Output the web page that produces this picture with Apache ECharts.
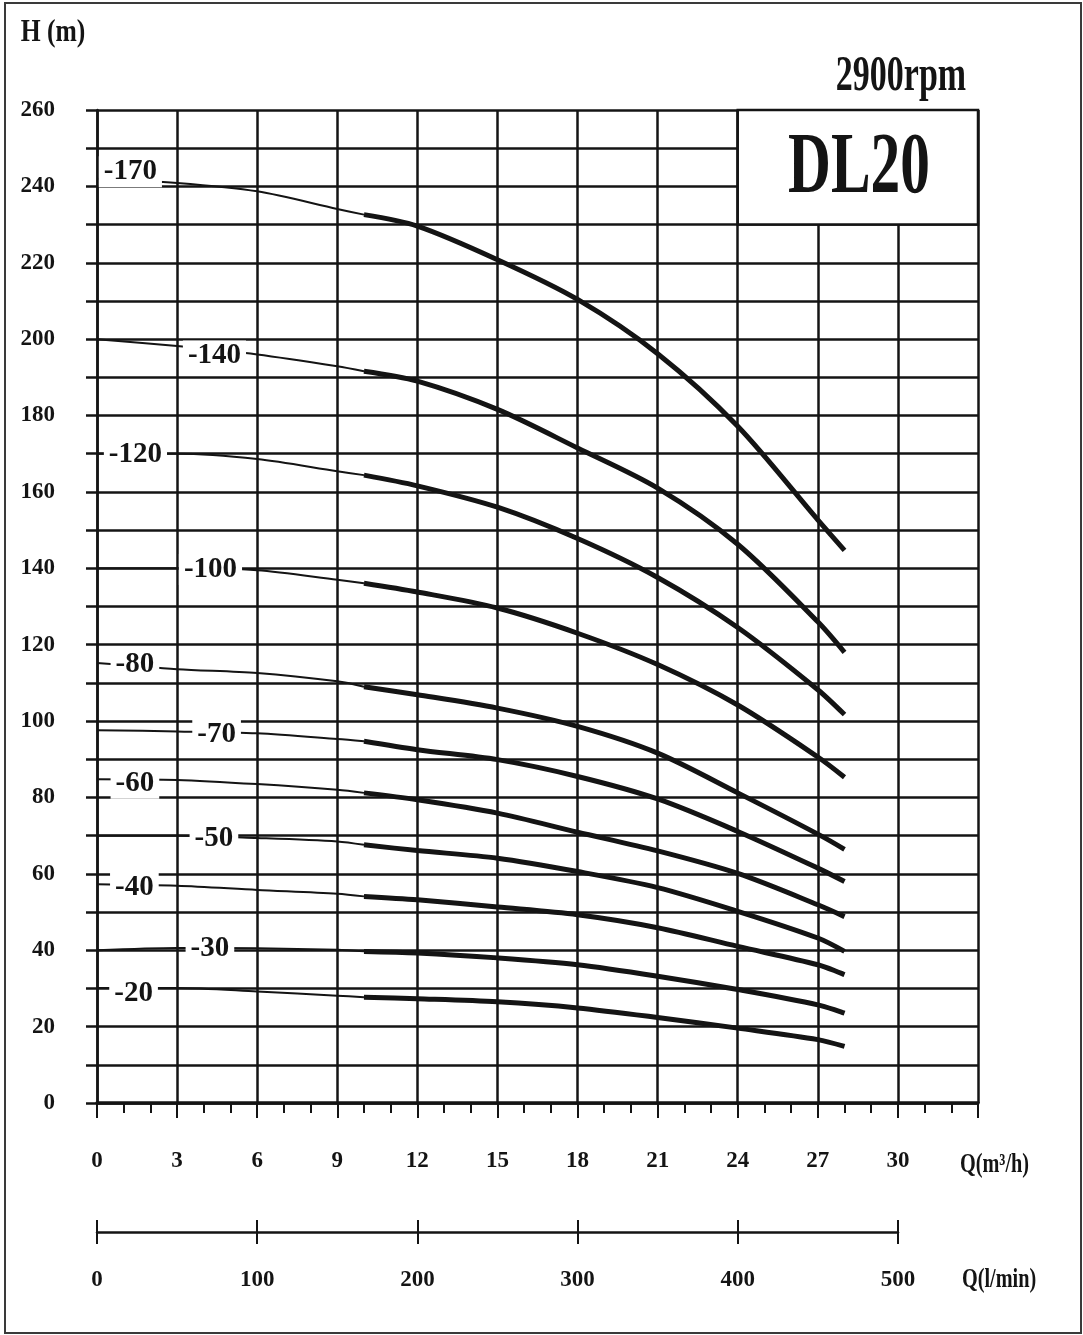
<!DOCTYPE html>
<html><head><meta charset="utf-8">
<script src="https://cdn.jsdelivr.net/npm/echarts@6/dist/echarts.min.js"></script>
<style>html,body{margin:0;padding:0;background:#fff}#c{width:1083px;height:1335px}</style>
</head><body><div id="c"></div>
<script>
// ---- data ----
const flowQ = [0, 3, 6, 9, 10, 12, 15, 18, 21, 24, 27, 28];          // Q (m3/h)
const head170 = [242.0, 240.9, 238.7, 234.1, 232.6, 229.6, 220.8, 210.4, 196.2, 177.2, 152.7, 144.7];
const head140 = [200.0, 198.2, 196.0, 192.9, 191.6, 189.0, 181.6, 171.5, 161.0, 146.3, 126.0, 118.0];
const head120 = [170.0, 170.0, 168.6, 165.4, 164.4, 161.6, 156.0, 147.8, 137.6, 124.5, 108.2, 101.7];
const head100 = [140.0, 140.0, 139.5, 137.0, 136.1, 133.8, 129.6, 123.0, 114.8, 104.2, 90.6, 85.3];
const head80  = [115.2, 113.6, 112.6, 110.4, 109.0, 106.9, 103.4, 98.6, 91.6, 81.2, 70.4, 66.4];
const head70  = [97.6, 97.3, 96.8, 95.3, 94.7, 92.5, 89.9, 85.5, 79.6, 71.1, 61.5, 58.0];
const head60  = [84.8, 84.6, 83.5, 82.0, 81.2, 79.4, 75.9, 70.9, 66.0, 60.1, 51.9, 48.8];
const head50  = [70.0, 70.0, 69.4, 68.5, 67.6, 66.1, 64.1, 60.6, 56.4, 50.2, 43.2, 39.7];
const head40  = [57.3, 56.9, 55.8, 54.8, 54.1, 53.2, 51.3, 49.3, 45.9, 41.0, 36.2, 33.6];
const head30  = [40.0, 40.6, 40.5, 40.1, 39.7, 39.3, 38.0, 36.2, 33.2, 29.7, 25.7, 23.5];
const head20  = [30.1, 30.1, 29.2, 28.1, 27.7, 27.3, 26.5, 24.9, 22.4, 19.6, 16.6, 14.8];
const curveNames = ['-170', '-140', '-120', '-100', '-80', '-70', '-60', '-50', '-40', '-30', '-20'];
const curveHeads = [head170, head140, head120, head100, head80, head70, head60, head50, head40, head30, head20];
// label anchor points (Q, H) of the curve names
const labelQ = [1.25, 4.40, 1.44, 4.25, 1.42, 4.48, 1.42, 4.38, 1.40, 4.23, 1.37];
const labelH = [243.8, 195.6, 169.8, 139.7, 114.8, 96.4, 83.7, 69.3, 56.5, 40.4, 28.7];
const qTickLabels = [0, 3, 6, 9, 12, 15, 18, 21, 24, 27, 30];
const hTickLabels = [0, 20, 40, 60, 80, 100, 120, 140, 160, 180, 200, 220, 240, 260];
const lminTickLabels = [0, 100, 200, 300, 400, 500];
const thinLimitQ = 10;

const INK = '#141414';
const FONT = '"Liberation Serif", "Times New Roman", serif';

const series = [];
curveHeads.forEach((h, i) => {
  const pts = flowQ.map((q, j) => [q, h[j]]);
  series.push({
    type: 'line', name: curveNames[i] + ' thin', data: pts.filter(p => p[0] <= thinLimitQ),
    smooth: 0.3, symbol: 'none', silent: true, z: 3,
    lineStyle: { color: INK, width: 2 }
  });
  series.push({
    type: 'line', name: curveNames[i], data: pts.filter(p => p[0] >= thinLimitQ),
    smooth: 0.3, symbol: 'none', silent: true, z: 3,
    lineStyle: { color: INK, width: 5, cap: 'butt' }
  });
});
series.push({
  type: 'scatter', name: 'labels', silent: true, z: 6, symbolSize: 0,
  itemStyle: { opacity: 1 },
  data: labelQ.map((q, i) => ({ value: [q, labelH[i]], name: curveNames[i] })),
  label: {
    show: true, position: 'inside', formatter: '{b}', color: INK, opacity: 1,
    fontFamily: FONT, fontWeight: 'bold', fontSize: 29,
    backgroundColor: '#fff', padding: [1, 5, 1, 5]
  },
  markArea: {
    silent: true,
    itemStyle: { color: '#fff', opacity: 1, borderColor: INK, borderWidth: 2.5 },
    data: [[{ coord: [24, 260] }, { coord: [33, 230] }]]
  }
});
series.push({ type: 'line', xAxisIndex: 1, yAxisIndex: 1, data: [], silent: true });

const chart = echarts.init(document.getElementById('c'), null, { renderer: 'canvas' });
chart.setOption({
  animation: false,
  backgroundColor: '#fff',
  grid: [
    { left: 97, right: 105, top: 110, bottom: 232 },
    { left: 97, width: 801, top: 1220, height: 12 }
  ],
  xAxis: [
    {
      type: 'value', gridIndex: 0, min: 0, max: 33, interval: 3,
      axisLine: { show: true, onZero: false, lineStyle: { color: INK, width: 3.5 } },
      axisTick: { show: true, length: 15, lineStyle: { color: INK, width: 2 } },
      minorTick: { show: true, splitNumber: 3, length: 10, lineStyle: { color: INK, width: 2 } },
      splitLine: { show: true, lineStyle: { color: INK, width: 2.5 } },
      axisLabel: {
        margin: 47, color: INK, fontFamily: FONT, fontWeight: 'bold', fontSize: 23,
        formatter: v => qTickLabels.includes(v) ? String(v) : ''
      }
    },
    {
      type: 'value', gridIndex: 1, min: 0, max: 500, interval: 100,
      axisLine: { show: true, onZero: false, lineStyle: { color: INK, width: 2.5 } },
      axisTick: { show: true, length: 12, lineStyle: { color: INK, width: 2 } },
      splitLine: { show: true, lineStyle: { color: INK, width: 2 } },
      axisLabel: {
        margin: 37, color: INK, fontFamily: FONT, fontWeight: 'bold', fontSize: 23,
        formatter: v => lminTickLabels.includes(v) ? String(v) : ''
      }
    }
  ],
  yAxis: [
    {
      type: 'value', gridIndex: 0, min: 0, max: 260, interval: 10,
      axisLine: { show: true, onZero: false, lineStyle: { color: INK, width: 2.5 } },
      axisTick: { show: true, length: 11, lineStyle: { color: INK, width: 2.5 } },
      splitLine: { show: true, lineStyle: { color: INK, width: 2.5 } },
      axisLabel: {
        margin: 42, align: 'right', color: INK, fontFamily: FONT, fontWeight: 'bold', fontSize: 23,
        padding: [0, 0, 14, 0],
        formatter: v => hTickLabels.includes(v) ? String(v) : ''
      }
    },
    { type: 'value', gridIndex: 1, min: 0, max: 1, show: false }
  ],
  series: series,
  graphic: [
    { type: 'rect', silent: true, z: 100, shape: { x: 5, y: 3, width: 1076, height: 1330 },
      style: { fill: null, stroke: '#3a3a3a', lineWidth: 2 } },
    { type: 'text', silent: true, z: 100, x: 53, y: 33, scaleX: 0.8,
      style: { text: 'H (m)', fill: INK, font: 'bold 32px ' + FONT, align: 'center', verticalAlign: 'middle' } },
    { type: 'text', silent: true, z: 100, x: 901, y: 77, scaleX: 0.68,
      style: { text: '2900rpm', fill: INK, font: 'bold 50px ' + FONT, align: 'center', verticalAlign: 'middle' } },
    { type: 'text', silent: true, z: 100, x: 859, y: 170, scaleX: 0.69,
      style: { text: 'DL20', fill: INK, font: 'bold 86px ' + FONT, align: 'center', verticalAlign: 'middle' } },
    { type: 'text', silent: true, z: 100, x: 960, y: 1165, scaleX: 0.75,
      style: { text: 'Q(m³/h)', fill: INK, font: 'bold 27px ' + FONT, align: 'left', verticalAlign: 'middle' } },
    { type: 'text', silent: true, z: 100, x: 962, y: 1280, scaleX: 0.75,
      style: { text: 'Q(l/min)', fill: INK, font: 'bold 27px ' + FONT, align: 'left', verticalAlign: 'middle' } }
  ]
});
</script>
</body></html>
